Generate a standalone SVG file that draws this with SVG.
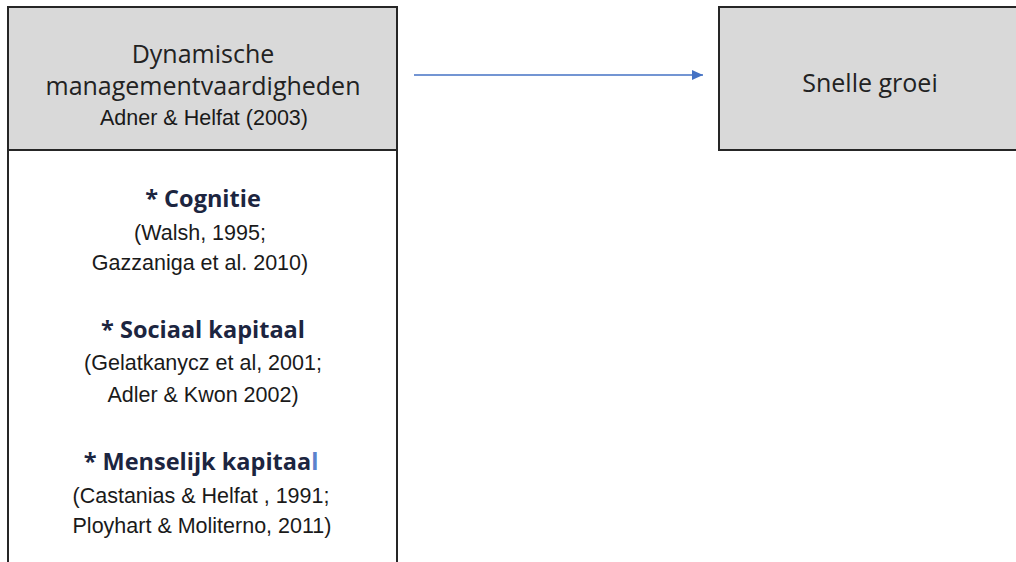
<svg xmlns="http://www.w3.org/2000/svg" width="1016" height="562" viewBox="0 0 1016 562">
<style>
.box{fill:#d9d9d9;stroke:#262626;stroke-width:2}
.wbox{fill:#ffffff;stroke:#262626;stroke-width:2}
.t{font-family:"Open Sans","Liberation Sans",sans-serif;font-size:25px;fill:#222;text-anchor:middle}
.c{font-family:"Liberation Sans",Arial,sans-serif;font-size:21.5px;fill:#1a1a1a;text-anchor:middle}
.b{font-family:"Open Sans","Liberation Sans",sans-serif;font-size:23.5px;font-weight:bold;fill:#1c2540;text-anchor:middle}
</style>
<defs>
<marker id="ah" markerWidth="12" markerHeight="12" refX="11" refY="5" orient="auto" markerUnits="userSpaceOnUse">
<path d="M0,0 L11,5 L0,10 Z" fill="#4472c4"/>
</marker>
</defs>
<g id="node-dynamische">
<rect class="box" x="8" y="7" width="389" height="143"/>
<text class="t" x="203" y="63">Dynamische</text>
<text class="t" x="203" y="95">managementvaardigheden</text>
<text class="c" x="204" y="125" font-size="22px">Adner &amp; Helfat (2003)</text>
</g>
<g id="node-components">
<path class="wbox" d="M8,565 L8,150 L397,150 L397,565"/>
<text class="b" x="203" y="207">* Cognitie</text>
<text class="c" x="200" y="240">(Walsh, 1995;</text>
<text class="c" x="200" y="270">Gazzaniga et al. 2010)</text>
<text class="b" x="203" y="338">* Sociaal kapitaal</text>
<text class="c" x="203" y="370">(Gelatkanycz et al, 2001;</text>
<text class="c" x="203" y="402">Adler &amp; Kwon 2002)</text>
<text class="b" x="201" y="470">* Menselijk kapitaa<tspan fill="#5b82cc">l</tspan></text>
<text class="c" x="201" y="503">(Castanias &amp; Helfat , 1991;</text>
<text class="c" x="202" y="533">Ployhart &amp; Moliterno,  2011)</text>
</g>
<g id="node-snelle-groei">
<rect class="box" x="719" y="7" width="310" height="143"/>
<text class="t" x="870" y="92" font-size="26px">Snelle groei</text>
</g>
<g id="connectors">
<line x1="414" y1="75" x2="703" y2="75" stroke="#4472c4" stroke-width="1.5" marker-end="url(#ah)"/>
</g>
</svg>
